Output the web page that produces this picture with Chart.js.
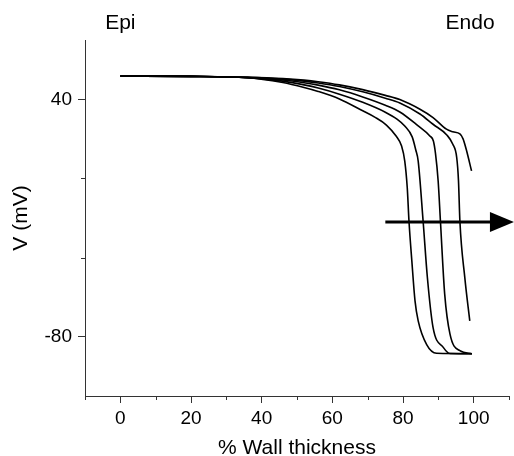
<!DOCTYPE html>
<html>
<head>
<meta charset="utf-8">
<script src="https://cdn.jsdelivr.net/npm/chart.js@4/dist/chart.umd.min.js"></script>
<style>html,body{margin:0;padding:0;background:#fff;}canvas{display:block;}</style>
</head>
<body>
<canvas id="c" width="514" height="456"></canvas>
<script>
// ---- data ----
const curveA_x = [0, 20, 36, 46, 52, 56, 62, 68.6, 72, 75.3, 78.1, 79.6, 80.5, 81.2, 81.7, 82.5, 83.4, 84.3, 86.7, 89.5, 99.5];
const curveA_y = [51.8, 51.6, 51.0, 48.5, 46.0, 44.0, 40.2, 34.2, 31.0, 27.0, 21.3, 16.4, 8.8, -4.6, -21.8, -41.7, -61.9, -72.0, -84.0, -88.4, -88.6];

const curveB_x = [0, 20, 36, 46, 52, 56, 62, 68.6, 75, 78.3, 80.5, 82.6, 83.6, 84.3, 85.7, 86.9, 88.5, 91.4, 93.3, 99.5];
const curveB_y = [51.8, 51.6, 51.0, 49.2, 47.3, 45.7, 42.6, 38.5, 33.5, 30.0, 26.5, 21.0, 14.5, 8.8, -21.8, -50.1, -75.3, -85.4, -88.5, -88.6];

const curveC_x = [0, 20, 36, 46, 52, 56, 62, 68.6, 75, 79.1, 84.2, 87.6, 88.6, 89.2, 89.95, 90.6, 91.8, 93.3, 96.1, 99.5];
const curveC_y = [51.8, 51.6, 51.0, 49.8, 48.4, 47.2, 44.8, 41.2, 37.0, 33.6, 26.7, 21.5, 18.9, 12.5, -1.3, -21.8, -58.5, -78.7, -87.1, -88.6];

const curveD_x = [0, 20, 36, 46, 52, 56, 62, 68.6, 75, 79.1, 84.8, 88.5, 92.4, 94.1, 95.2, 95.7, 96.1, 97.5, 98.9];
const curveD_y = [51.8, 51.6, 51.1, 50.2, 49.2, 48.3, 46.5, 43.8, 40.6, 38.2, 32.6, 27.4, 22.0, 17.3, 10.6, -1.0, -21.5, -50.3, -72.0];

const curveE_x = [0, 20, 36, 46, 52, 56, 62, 68.6, 75, 79.1, 84.8, 88.5, 92.3, 94.1, 96.1, 97.0, 98.0, 99.4];
const curveE_y = [51.8, 51.6, 51.2, 50.5, 49.7, 48.9, 47.3, 44.9, 42.0, 39.9, 35.0, 30.8, 24.9, 23.6, 22.5, 20.0, 14.0, 3.8];

const xMajorTicks = [0, 20, 40, 60, 80, 100];
const xMinorTicks = [-10, 10, 30, 50, 70, 90, 110];
const yMajorTicks = [40, -80];
const yMinorTicks = [0, -40];

const arrowX = [75, 111.4];
const arrowY = -22;

const edgeLabels = ['Epi', 'Endo'];
const edgeLabelX = [0, 99];

// ---- chart ----
const FONT = "'Liberation Sans', Arial, Helvetica, sans-serif";
const AXIS = '#333';

function pts(xs, ys) { return xs.map((x, i) => ({x: x, y: ys[i]})); }
const curves = [[curveA_x, curveA_y], [curveB_x, curveB_y], [curveC_x, curveC_y], [curveD_x, curveD_y], [curveE_x, curveE_y]];

const extras = {
  id: 'extras',
  afterDraw(chart) {
    const {ctx, chartArea, scales: {x, y}} = chart;
    ctx.save();
    ctx.strokeStyle = AXIS; ctx.lineWidth = 1;
    xMinorTicks.forEach(v => {
      const p = Math.round(x.getPixelForValue(v)) + 0.5;
      ctx.beginPath(); ctx.moveTo(p, chartArea.bottom); ctx.lineTo(p, chartArea.bottom + 4); ctx.stroke();
    });
    yMinorTicks.forEach(v => {
      const p = Math.round(y.getPixelForValue(v)) + 0.5;
      ctx.beginPath(); ctx.moveTo(chartArea.left, p); ctx.lineTo(chartArea.left - 4, p); ctx.stroke();
    });
    // arrow
    const ax0 = x.getPixelForValue(arrowX[0]);
    const ax1 = x.getPixelForValue(arrowX[1]);
    const ay = y.getPixelForValue(arrowY);
    const headLen = 24, headHalf = 10;
    ctx.strokeStyle = '#000'; ctx.lineWidth = 3;
    ctx.beginPath(); ctx.moveTo(ax0, ay); ctx.lineTo(ax1 - headLen + 2, ay); ctx.stroke();
    ctx.fillStyle = '#000';
    ctx.beginPath(); ctx.moveTo(ax1, ay); ctx.lineTo(ax1 - headLen, ay - headHalf); ctx.lineTo(ax1 - headLen, ay + headHalf); ctx.closePath(); ctx.fill();
    // edge labels
    ctx.font = '21px ' + FONT;
    ctx.textAlign = 'center'; ctx.textBaseline = 'alphabetic';
    edgeLabels.forEach((t, i) => ctx.fillText(t, x.getPixelForValue(edgeLabelX[i]), chartArea.top - 11));
    ctx.restore();
  }
};

new Chart(document.getElementById('c'), {
  type: 'scatter',
  data: {
    datasets: curves.map(c => ({
      data: pts(c[0], c[1]),
      showLine: true,
      borderColor: '#000',
      borderWidth: 1.6,
      pointRadius: 0,
      pointHoverRadius: 0,
      fill: false,
      cubicInterpolationMode: 'monotone'
    }))
  },
  options: {
    responsive: false,
    animation: false,
    devicePixelRatio: 1,
    layout: {padding: {top: 40, right: 5, bottom: 0, left: 0}},
    plugins: {legend: {display: false}, tooltip: {enabled: false}},
    scales: {
      x: {
        type: 'linear', min: -10, max: 110,
        afterBuildTicks: s => { s.ticks = xMajorTicks.map(v => ({value: v})); },
        afterFit: s => { s.height = 60; },
        border: {display: true, color: AXIS, width: 1},
        grid: {drawOnChartArea: false, drawTicks: true, tickLength: 7, tickColor: AXIS, tickWidth: 1},
        ticks: {color: '#000', font: {family: FONT, size: 19}, padding: 4, maxRotation: 0, autoSkip: false},
        title: {display: true, text: '% Wall thickness', color: '#000', font: {family: FONT, size: 21, lineHeight: 1}, padding: {top: 0, bottom: -3}}
      },
      y: {
        type: 'linear', min: -110, max: 70,
        afterBuildTicks: s => { s.ticks = yMajorTicks.map(v => ({value: v})); },
        afterFit: s => { s.width = 85; },
        border: {display: true, color: AXIS, width: 1},
        grid: {drawOnChartArea: false, drawTicks: true, tickLength: 7, tickColor: AXIS, tickWidth: 1},
        ticks: {color: '#000', font: {family: FONT, size: 19}, padding: 6, autoSkip: false},
        title: {display: true, text: 'V (mV)', color: '#000', font: {family: FONT, size: 21, lineHeight: 1}, padding: {top: 11, bottom: 0}}
      }
    }
  },
  plugins: [extras]
});
</script>
</body>
</html>
